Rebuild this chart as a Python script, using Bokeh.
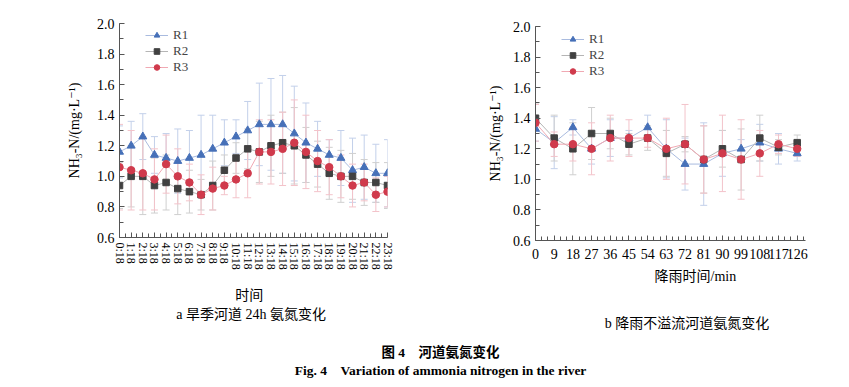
import numpy as np
from bokeh.plotting import figure
from bokeh.layouts import column, row
from bokeh.models import (Range1d, FixedTicker, SingleIntervalTicker, ColumnDataSource,
                          Whisker, TeeHead, Legend, LegendItem, NumeralTickFormatter)
from bokeh.core.properties import value
from bokeh.embed import file_html
from bokeh.resources import INLINE

# ---------------- data ----------------
hours = ["0:18", "1:18", "2:18", "3:18", "4:18", "5:18", "6:18", "7:18", "8:18", "9:18",
         "10:18", "11:18", "12:18", "13:18", "14:18", "15:18", "16:18", "17:18", "18:18",
         "19:18", "20:18", "21:18", "22:18", "23:18"]
r1_day = [1.16, 1.20, 1.26, 1.14, 1.12, 1.10, 1.12, 1.14, 1.18, 1.22, 1.26, 1.30,
          1.34, 1.34, 1.34, 1.28, 1.22, 1.18, 1.14, 1.12, 1.04, 1.06, 1.02, 1.02]
r2_day = [0.94, 1.00, 1.00, 0.94, 0.96, 0.92, 0.90, 0.88, 0.94, 1.04, 1.12, 1.18,
          1.16, 1.20, 1.22, 1.20, 1.14, 1.08, 1.02, 1.00, 1.00, 0.96, 0.96, 0.94]
r3_day = [1.06, 1.04, 1.02, 0.98, 1.08, 1.00, 0.96, 0.88, 0.92, 0.94, 0.98, 1.02,
          1.16, 1.16, 1.18, 1.22, 1.16, 1.10, 1.06, 1.00, 0.94, 0.96, 0.88, 0.90]
e1_day = [0.17, 0.16, 0.15, 0.12, 0.16, 0.21, 0.18, 0.26, 0.22, 0.15, 0.11, 0.19,
          0.27, 0.30, 0.32, 0.31, 0.26, 0.18, 0.10, 0.18, 0.21, 0.21, 0.19, 0.22]
e2_day = [0.15, 0.20, 0.25, 0.18, 0.18, 0.17, 0.14, 0.10, 0.16, 0.10, 0.10, 0.13,
          0.20, 0.20, 0.20, 0.25, 0.18, 0.15, 0.17, 0.17, 0.15, 0.15, 0.13, 0.15]
e3_day = [0.28, 0.26, 0.24, 0.20, 0.19, 0.18, 0.12, 0.13, 0.14, 0.06, 0.12, 0.16,
          0.21, 0.21, 0.24, 0.28, 0.24, 0.20, 0.18, 0.14, 0.14, 0.12, 0.11, 0.10]

minutes = [0, 9, 18, 27, 36, 45, 54, 63, 72, 81, 90, 99, 108, 117, 126]
r1_rain = [1.33, 1.24, 1.34, 1.20, 1.27, 1.27, 1.34, 1.20, 1.10, 1.10, 1.17, 1.20, 1.24, 1.20, 1.17]
r2_rain = [1.40, 1.27, 1.20, 1.30, 1.30, 1.23, 1.27, 1.17, 1.23, 1.13, 1.20, 1.13, 1.27, 1.21, 1.24]
r3_rain = [1.37, 1.23, 1.23, 1.20, 1.27, 1.27, 1.27, 1.20, 1.23, 1.13, 1.17, 1.13, 1.17, 1.23, 1.20]
e1_rain = [0.08, 0.17, 0.05, 0.10, 0.12, 0.05, 0.08, 0.19, 0.17, 0.27, 0.15, 0.06, 0.12, 0.10, 0.05]
e2_rain = [0.10, 0.15, 0.17, 0.17, 0.10, 0.07, 0.08, 0.15, 0.05, 0.22, 0.12, 0.20, 0.15, 0.05, 0.05]
e3_rain = [0.12, 0.08, 0.11, 0.17, 0.15, 0.12, 0.06, 0.20, 0.26, 0.22, 0.25, 0.26, 0.15, 0.06, 0.05]

series_names = ["R1", "R2", "R3"]

# ---------------- styles ----------------
SERIF = "'Liberation Serif', 'DejaVu Serif', 'Noto Sans CJK SC'"
MARKERS = ["triangle", "square", "circle"]
MCOL = ["#4670b8", "#414141", "#d03a4c"]
LCOL = ["#a9bbdf", "#b5b5b5", "#f0a9b3"]
ECOL = ["#c3d0ea", "#cfcfcf", "#f3c3ca"]
MSIZE = [8, 6.5, 7.5]
AXCOL = "#555555"


def style_axes(p, xfont):
    p.outline_line_color = None
    p.xgrid.visible = False
    p.ygrid.visible = False
    p.background_fill_color = "white"
    p.border_fill_color = "white"
    for ax in (p.xaxis[0], p.yaxis[0]):
        ax.axis_line_color = AXCOL
        ax.major_tick_line_color = AXCOL
        ax.minor_tick_line_color = AXCOL
        ax.major_tick_in = 5
        ax.major_tick_out = 0
        ax.minor_tick_in = 4
        ax.minor_tick_out = 0
        ax.major_label_text_font = SERIF
        ax.major_label_text_color = "black"
        ax.axis_label_text_font = SERIF
        ax.axis_label_text_font_style = "normal"
        ax.axis_label_text_color = "black"
        ax.axis_label_text_font_size = "14px"
    p.yaxis[0].major_label_text_font_size = "14px"
    p.xaxis[0].major_label_text_font_size = xfont
    p.yaxis[0].ticker = SingleIntervalTicker(interval=0.2, num_minor_ticks=2)
    p.yaxis[0].formatter = NumeralTickFormatter(format="0.0")
    p.yaxis[0].axis_label = "NH₃-N/(mg·L⁻¹)"


def draw_series(p, xs, ys_list, es_list):
    items = []
    for i in range(3):
        ys = np.array(ys_list[i])
        es = np.array(es_list[i])
        src = ColumnDataSource(dict(x=xs, y=ys, up=ys + es, lo=ys - es))
        w = Whisker(source=src, base="x", upper="up", lower="lo", line_color=ECOL[i],
                    line_width=1,
                    upper_head=TeeHead(size=7, line_color=ECOL[i], line_width=1),
                    lower_head=TeeHead(size=7, line_color=ECOL[i], line_width=1))
        p.add_layout(w)
    for i in range(3):
        src = ColumnDataSource(dict(x=xs, y=ys_list[i]))
        ln = p.line("x", "y", source=src, line_color=LCOL[i], line_width=1)
        sc = p.scatter("x", "y", source=src, marker=MARKERS[i], size=MSIZE[i],
                       fill_color=MCOL[i], line_color=MCOL[i])
        items.append(LegendItem(label=series_names[i], renderers=[ln, sc]))
    return items


def add_legend(p, items, loc):
    lg = Legend(items=items, location=loc, label_text_font=SERIF,
                label_text_font_size="13px",
                label_height=14, glyph_height=14,
                glyph_width=23, spacing=0, padding=0, margin=0,
                border_line_color=None, background_fill_alpha=0, label_standoff=5)
    p.add_layout(lg, "center")


def text_panel(width, height, xs, ys, texts, size, style):
    # a blank panel whose data units are its pixels; holds caption texts
    c = figure(width=width, height=height, x_range=Range1d(0, width), y_range=Range1d(0, height),
               output_backend="svg", toolbar_location=None,
               min_border_left=0, min_border_right=0, min_border_top=0, min_border_bottom=0)
    c.axis.visible = False
    c.xgrid.visible = False
    c.ygrid.visible = False
    c.outline_line_color = None
    src = ColumnDataSource(dict(x=xs, y=ys, t=texts))
    c.text("x", "y", text="t", source=src, text_font=value(SERIF), text_font_size=size,
           text_font_style=style, text_align="center", text_baseline="middle", text_color="black")
    return c


# ---------------- left: 24h ----------------
x_idx = list(range(len(hours)))
p1 = figure(width=438, height=280, x_range=Range1d(0, 23), y_range=Range1d(0.6, 2.0),
            output_backend="svg", toolbar_location=None,
            min_border_left=119, min_border_right=51, min_border_top=23, min_border_bottom=43)
style_axes(p1, "12px")
p1.xaxis[0].ticker = FixedTicker(ticks=x_idx, minor_ticks=[i + 0.5 for i in x_idx[:-1]])
p1.xaxis[0].major_label_overrides = {i: h for i, h in zip(x_idx, hours)}
p1.xaxis[0].major_label_orientation = "vertical"
p1.yaxis[0].axis_label_standoff = 12
items1 = draw_series(p1, np.array(x_idx), [r1_day, r2_day, r3_day], [e1_day, e2_day, e3_day])
add_legend(p1, items1, (26, 162))
c1 = text_panel(438, 60, [212, 218], [45, 26],
                ["时间", "a  旱季河道 24h 氨氮变化"], "14px", "normal")

# ---------------- right: rain ----------------
p2 = figure(width=407, height=265, x_range=Range1d(0, 130), y_range=Range1d(0.6, 2.0),
            output_backend="svg", toolbar_location=None,
            min_border_left=97, min_border_right=40, min_border_top=26, min_border_bottom=25)
style_axes(p2, "14px")
p2.xaxis[0].ticker = FixedTicker(ticks=minutes,
                                 minor_ticks=[m for m in range(0, 130, 3) if m % 9 != 0])
p2.xaxis[0].major_label_standoff = 8
p2.yaxis[0].axis_label_standoff = 7
items2 = draw_series(p2, np.array(minutes), [r1_rain, r2_rain, r3_rain], [e1_rain, e2_rain, e3_rain])
add_legend(p2, items2, (26, 161))
c2 = text_panel(407, 75, [241, 231], [64, 17],
                ["降雨时间/min", "b  降雨不溢流河道氨氮变化"], "14px", "normal")

# ---------------- bottom captions ----------------
p3 = text_panel(845, 40, [440, 440], [28.3, 10],
                ["图 4　河道氨氮变化", "Fig. 4　Variation of ammonia nitrogen in the river"],
                "13.5px", "bold")

layout = column(row(column(p1, c1), column(p2, c2)), p3)
open("out.html", "w").write(file_html(layout, INLINE))
